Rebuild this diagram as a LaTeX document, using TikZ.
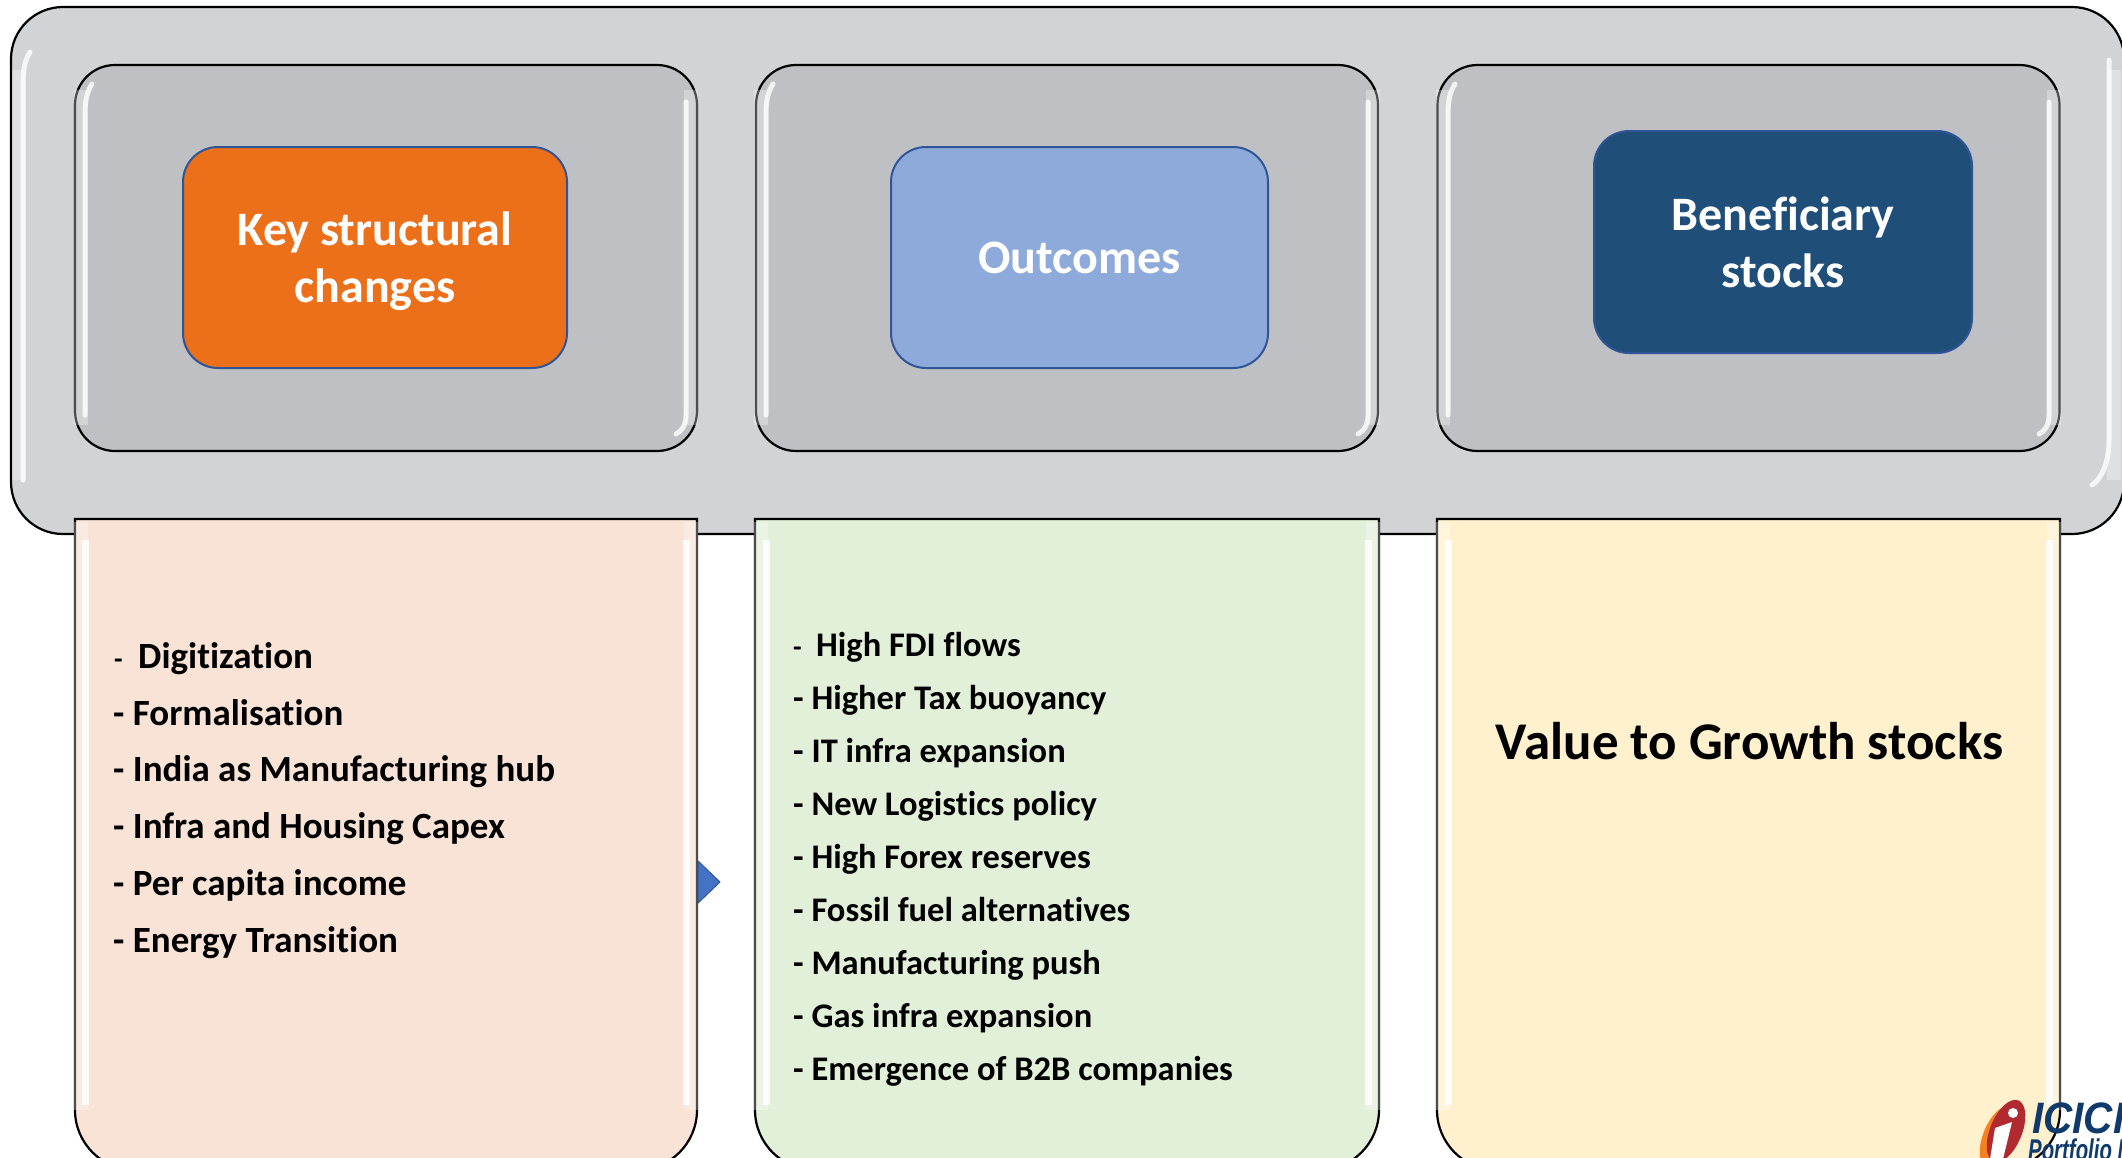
\documentclass[tikz,border=0pt]{standalone}
\usepackage{fontspec}
\setmainfont[Ligatures=NoCommon]{Carlito}
\newfontfamily\logofont{Liberation Sans}
\definecolor{outergray}{HTML}{D1D3D5}
\definecolor{innergray}{HTML}{BFC0C4}
\definecolor{keyorange}{HTML}{EC6F1A}
\definecolor{outblue}{HTML}{8EAADB}
\definecolor{stockblue}{HTML}{1F4E79}
\definecolor{edgeblue}{HTML}{2F5597}
\definecolor{triblue}{HTML}{4472C4}
\definecolor{peach}{HTML}{F9E3D6}
\definecolor{palegreen}{HTML}{E2EFD9}
\definecolor{paleyellow}{HTML}{FFF1CE}
\definecolor{logonavy}{HTML}{0F3A6B}
\definecolor{logored}{HTML}{B02A30}
\definecolor{logoorange}{HTML}{F58220}
\tikzset{
	panelbox/.style={draw=black, line width=2.2pt, fill=innergray, rounded corners=40pt, minimum width=622pt, minimum height=386pt, inner sep=0pt},
	headbox/.style={draw=edgeblue, line width=2pt, rounded corners=35pt, text=white, align=center, inner sep=0pt, font=\fontsize{48}{57}\selectfont\bfseries},
	lowpanel/.style={draw=black, line width=2.2pt},
	gloss/.style={draw=white, line width=5pt, line cap=round, opacity=0.8},
	lowgloss/.style={draw=white, line width=7pt, opacity=0.85},
	rim/.style={draw=white, line width=14pt, opacity=0.3},
	listitem/.style={anchor=base west, inner sep=0pt, font=\fontsize{37}{44}\selectfont\bfseries},
	listsmall/.style={anchor=base west, inner sep=0pt, font=\fontsize{34.5}{42}\selectfont\bfseries},
	logotext/.style={anchor=base west, inner sep=0pt, text=logonavy, transform shape}
}
\begin{document}
\begin{tikzpicture}[x=1pt, y=-1pt]
	\useasboundingbox (0,0) rectangle (2122,1157);
	\clip (0,0) rectangle (2122,1157);

	% top band
	\filldraw[draw=black, line width=2.2pt, fill=outergray, rounded corners=52pt] (11,7) rectangle (2124,534);
	\draw[rim] (19,70) -- (19,480);
	\draw[gloss] (30,52) .. controls (24,62) and (23,70) .. (23,90) -- (23,480);
	\draw[rim] (2114,70) -- (2114,480);
	\draw[gloss] (2109,60) -- (2109,440) .. controls (2109,465) and (2100,480) .. (2092,485);

	% panels
	\node[panelbox] (keypanel) at (386,258) {};
	\node[panelbox] (outpanel) at (1067,258) {};
	\node[panelbox] (stockpanel) at (1748.5,258) {};

	\draw[rim] (81,90) -- (81,425);
	\draw[gloss] (92,84) .. controls (87,92) and (85,100) .. (85,115) -- (85,415);
	\draw[rim] (691,90) -- (691,425);
	\draw[gloss] (686,102) -- (686,415) .. controls (686,425) and (682,431) .. (676,434);

	\draw[rim] (761,90) -- (761,425);
	\draw[gloss] (773,84) .. controls (768,92) and (766,100) .. (766,115) -- (766,415);
	\draw[rim] (1373,90) -- (1373,425);
	\draw[gloss] (1368,102) -- (1368,415) .. controls (1368,425) and (1364,431) .. (1358,434);

	\draw[rim] (1443,90) -- (1443,425);
	\draw[gloss] (1455,84) .. controls (1450,92) and (1448,100) .. (1448,115) -- (1448,415);
	\draw[rim] (2054,90) -- (2054,425);
	\draw[gloss] (2049,102) -- (2049,415) .. controls (2049,425) and (2045,431) .. (2039,434);

	% head boxes
	\node[headbox, fill=keyorange, minimum width=384pt, minimum height=221pt] (keyhead) at (375,257.5) {\rule{0pt}{42pt}Key structural\\changes};
	\node[headbox, fill=outblue, minimum width=377pt, minimum height=221pt] (outhead) at (1079.5,257.5) {Outcomes};
	\node[headbox, fill=stockblue, minimum width=378pt, minimum height=222pt] (stockhead) at (1783,242) {Beneficiary\\stocks};

	% lower panels
	\filldraw[lowpanel, fill=peach] (75,519) -- (697,519) -- (697,1110) arc (0:90:60) -- (135,1170) arc (90:180:60) -- cycle;
	\filldraw[lowpanel, fill=palegreen] (755,519) -- (1379,519) -- (1379,1110) arc (0:90:60) -- (815,1170) arc (90:180:60) -- cycle;
	\filldraw[lowpanel, fill=paleyellow] (1437,519) -- (2060,519) -- (2060,1110) arc (0:90:60) -- (1497,1170) arc (90:180:60) -- cycle;

	\draw[rim] (81,522) -- (81,1110);
	\draw[lowgloss] (85,540) -- (85,1105);
	\draw[rim] (691,522) -- (691,1110);
	\draw[lowgloss] (686,540) -- (686,1105);
	\draw[rim] (761,522) -- (761,1110);
	\draw[lowgloss] (766,540) -- (766,1105);
	\draw[rim] (1373,522) -- (1373,1110);
	\draw[lowgloss] (1368,540) -- (1368,1105);
	\draw[rim] (1443,522) -- (1443,1110);
	\draw[lowgloss] (1448,540) -- (1448,1105);
	\draw[rim] (2054,522) -- (2054,1110);
	\draw[lowgloss] (2049,540) -- (2049,1105);

	% small arrow
	\filldraw[draw=edgeblue, line width=1pt, fill=triblue] (698,861) -- (720,882) -- (698,903) -- cycle;

	% first list
	\node[listitem, font=\fontsize{28}{34}\selectfont\bfseries] (keydash) at (114,668) {-};
	\node[listitem] (keyone) at (138,668) {Digitization};
	\node[listitem] (keytwo) at (113,725) {- Formalisation};
	\node[listitem] (keythree) at (113,781) {- India as Manufacturing hub};
	\node[listitem] (keyfour) at (113,838) {- Infra and Housing Capex};
	\node[listitem] (keyfive) at (113,895) {- Per capita income};
	\node[listitem] (keysix) at (113,952) {- Energy Transition};

	% second list
	\node[listsmall, font=\fontsize{28}{34}\selectfont\bfseries] (outdash) at (793,656) {-};
	\node[listsmall] (outone) at (816,656) {High FDI flows};
	\node[listsmall] (outtwo) at (793,709) {- Higher Tax buoyancy};
	\node[listsmall] (outthree) at (793,762) {- IT infra expansion};
	\node[listsmall] (outfour) at (793,815) {- New Logistics policy};
	\node[listsmall] (outfive) at (793,868) {- High Forex reserves};
	\node[listsmall] (outsix) at (793,921) {- Fossil fuel alternatives};
	\node[listsmall] (outseven) at (793,974) {- Manufacturing push};
	\node[listsmall] (outeight) at (793,1027) {- Gas infra expansion};
	\node[listsmall] (outnine) at (793,1080) {- Emergence of B2B companies};

	\node[inner sep=0pt, font=\fontsize{53}{64}\selectfont\bfseries] (growth) at (1749.5,741) {Value to Growth stocks};

	% logo
	\fill[logoorange, rotate around={-22:(1999,1137)}] (1999,1137) ellipse (16pt and 33pt);
	\fill[logored, rotate around={-22:(2006,1131)}] (2006,1131) ellipse (16pt and 33pt);
	\fill[white] (1995,1128) -- (2012,1122) -- (2003,1159) -- (1990,1159) -- cycle;
	\fill[white] (2013,1113) circle (5pt);
	\node[logotext, xscale=0.92, font=\logofont\fontsize{44}{44}\selectfont\bfseries\itshape] (logoname) at (2032,1133) {ICICI};
	\node[logotext, xscale=0.68, font=\logofont\fontsize{30}{30}\selectfont\bfseries\itshape] (logosub) at (2028,1160) {Portfolio M};
\end{tikzpicture}
\end{document}
